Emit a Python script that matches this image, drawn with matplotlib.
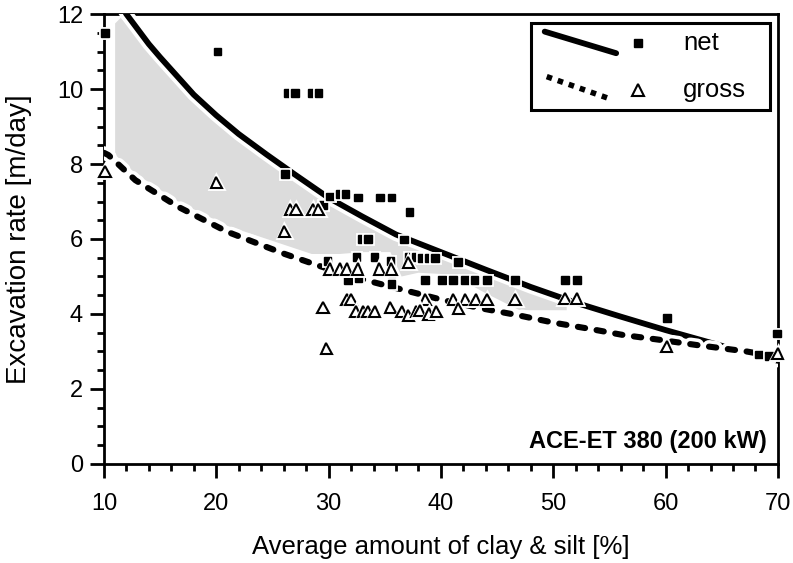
import matplotlib
matplotlib.use("Agg")
import matplotlib.pyplot as plt
import matplotlib.patheffects as pe
from matplotlib.patches import Polygon, Rectangle
from matplotlib.ticker import MultipleLocator

plt.rcParams["font.family"] = ["Liberation Sans", "DejaVu Sans"]

# trend lines
net_curve_x = [11.5, 12, 13, 14, 15, 16.5, 18, 20, 22, 24.5, 27, 30, 33, 36, 40, 44, 48, 52, 56, 60, 65, 70]
net_curve_y = [12.25, 12.0, 11.6, 11.2, 10.85, 10.35, 9.85, 9.3, 8.8, 8.25, 7.72, 7.1, 6.6, 6.12, 5.65, 5.18, 4.72, 4.3, 3.93, 3.57, 3.15, 2.75]

gross_curve_x = [10, 10.4, 12.8, 16.6, 21, 26.1, 29.2, 32.3, 35.5, 40.2, 43.6, 46.8, 50, 53.3, 56.2, 59.5, 62.8, 67.2, 70]
gross_curve_y = [8.3, 8.24, 7.57, 6.86, 6.19, 5.6, 5.28, 4.98, 4.73, 4.37, 4.15, 3.97, 3.77, 3.6, 3.44, 3.31, 3.17, 3.0, 2.85]

# measured points
net_x = [10.1, 20.1, 26.4, 27.0, 28.5, 29.1, 26.1, 29.5, 30.1, 31.0, 31.5, 32.6, 34.6, 35.6, 37.2,
         33.0, 33.5, 36.7, 29.9, 32.5, 34.1, 35.5, 37.1, 37.8, 38.3, 38.9, 39.5, 41.5,
         31.75, 32.65, 35.6, 35.6, 38.6, 40.1, 41.05, 42.15, 43.0, 44.1, 46.6, 51.05, 52.1,
         60.1, 69.9, 68.3, 69.2]
net_y = [11.5, 11.0, 9.9, 9.9, 9.9, 9.9, 7.73, 6.9, 7.13, 7.2, 7.2, 7.11, 7.11, 7.11, 6.72,
         6.0, 6.0, 5.99, 5.42, 5.52, 5.52, 5.42, 5.52, 5.52, 5.5, 5.5, 5.5, 5.39,
         4.91, 4.95, 4.95, 4.8, 4.91, 4.91, 4.91, 4.91, 4.91, 4.91, 4.91, 4.91, 4.91,
         3.89, 3.48, 2.92, 2.88]

gross_x = [10.1, 20.0, 26.6, 27.1, 28.6, 29.1, 26.05, 30.1, 31.0, 31.6, 32.6, 34.5, 35.6, 37.1,
           29.5, 31.6, 32.0, 32.4, 33.1, 33.5, 34.1, 35.5, 36.5, 37.1, 37.8, 29.8,
           38.6, 41.1, 42.15, 43.1, 44.1, 46.6, 51.05, 52.1,
           38.1, 38.9, 39.6, 41.55, 60.1, 70.0]
gross_y = [7.8, 7.5, 6.78, 6.78, 6.78, 6.78, 6.2, 5.2, 5.2, 5.2, 5.2, 5.2, 5.2, 5.38,
           4.18, 4.39, 4.39, 4.06, 4.06, 4.06, 4.06, 4.18, 4.06, 3.95, 4.06, 3.09,
           4.39, 4.39, 4.39, 4.39, 4.39, 4.39, 4.42, 4.42,
           4.1, 4.0, 4.06, 4.15, 3.13, 2.95]

# shaded band outline
band_x = [11.0, 11.5, 13, 15, 18, 21, 24, 27, 30, 33, 36, 40, 44, 48, 51.2,
          51.2, 47, 44, 41, 38, 36.5, 35.5, 33, 31, 28.5, 26.5, 24, 21, 16.6, 12.8, 11.0]
band_y = [11.75, 11.9, 11.5, 10.75, 9.75, 8.95, 8.3, 7.65, 7.0, 6.5, 6.0, 5.5, 5.05, 4.6, 4.3,
          4.1, 4.1, 4.55, 5.05, 5.1, 5.0, 5.65, 5.65, 5.6, 5.6, 5.8, 6.05, 6.35, 7.0, 7.75, 8.25]

fig = plt.figure(figsize=(7.93, 5.63), dpi=100)
ax = fig.add_axes([0.131, 0.176, 0.85, 0.799])

halo_line = [pe.withStroke(linewidth=9.5, foreground="white")]
halo_mark = [pe.withStroke(linewidth=3.5, foreground="white")]

ax.add_patch(Polygon(list(zip(band_x, band_y)), closed=True, facecolor="#dcdcdc",
                     edgecolor="none", zorder=1))

ax.plot(net_curve_x, net_curve_y, color="black", lw=4.2, solid_capstyle="round",
        path_effects=halo_line, zorder=3)
ax.plot(gross_curve_x, gross_curve_y, color="black", lw=4.4, dashes=(1.2, 1.9),
        dash_capstyle="round", path_effects=halo_line, zorder=3)

ax.plot(net_x, net_y, ls="none", marker="s", ms=5.5, color="black",
        path_effects=halo_mark, zorder=4, clip_on=False)
ax.plot(gross_x, gross_y, ls="none", marker="^", ms=8, mfc="white", mec="black",
        mew=1.5, path_effects=halo_mark, zorder=4, clip_on=False)

ax.set_xlim(10, 70)
ax.set_ylim(0, 12)
ax.xaxis.set_major_locator(MultipleLocator(10))
ax.xaxis.set_minor_locator(MultipleLocator(2))
ax.yaxis.set_major_locator(MultipleLocator(2))
ax.yaxis.set_minor_locator(MultipleLocator(0.5))
ax.tick_params(which="major", direction="out", length=10, width=2, labelsize=17)
ax.tick_params(which="minor", direction="out", length=5, width=2)
ax.tick_params(axis="x", which="major", pad=11)
ax.tick_params(axis="y", which="major", pad=5)
for s in ax.spines.values():
    s.set_linewidth(2)

ax.set_xlabel("Average amount of clay & silt [%]", fontsize=18.5, labelpad=14)
ax.set_ylabel("Excavation rate [m/day]", fontsize=20, labelpad=18)

ax.text(0.983, 0.05, "ACE-ET 380 (200 kW)", transform=ax.transAxes, ha="right",
        va="center", fontsize=17, fontweight="bold")

# legend drawn by hand (slanted line samples as in the original)
ax.add_patch(Rectangle((0.634, 0.787), 0.354, 0.193, transform=ax.transAxes,
                       facecolor="white", edgecolor="black", lw=2.2, zorder=5))
ax.plot([0.654, 0.760], [0.961, 0.913], transform=ax.transAxes, color="black", lw=4.2,
        solid_capstyle="round", zorder=6)
ax.plot([0.657, 0.748], [0.861, 0.813], transform=ax.transAxes, color="black", lw=4.0,
        dashes=(1.0, 1.1), dash_capstyle="butt", zorder=6)
ax.plot([0.792], [0.935], transform=ax.transAxes, ls="none", marker="s", ms=5.5,
        color="black", zorder=6)
ax.plot([0.793], [0.831], transform=ax.transAxes, ls="none", marker="^", ms=8,
        mfc="white", mec="black", mew=1.5, zorder=6)
ax.text(0.859, 0.935, "net", transform=ax.transAxes, va="center", fontsize=18.5, zorder=6)
ax.text(0.859, 0.831, "gross", transform=ax.transAxes, va="center", fontsize=18.5, zorder=6)

fig.savefig("out.png", dpi=100)
